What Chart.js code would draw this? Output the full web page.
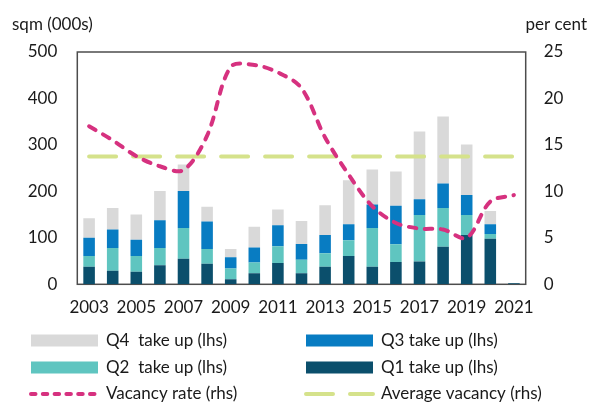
<!DOCTYPE html>
<html>
<head>
<meta charset="utf-8">
<script src="https://cdn.jsdelivr.net/npm/chart.js@4.4.1/dist/chart.umd.min.js"></script>
<style>
  html, body { margin: 0; padding: 0; background: #fff; }
  #wrap { width: 590px; height: 403px; }
</style>
</head>
<body>
<div id="wrap"><canvas id="takeUpChart"></canvas></div>
<script>
const years = ['2003', '2004', '2005', '2006', '2007', '2008', '2009', '2010', '2011', '2012',
               '2013', '2014', '2015', '2016', '2017', '2018', '2019', '2020', '2021'];

// take up, sqm (000s)
const q1TakeUp = [38, 29, 27, 41, 55, 44, 11, 24, 46, 24, 38, 61, 38, 48, 49, 81, 106, 98, 2];
const q2TakeUp = [23, 49, 34, 37, 66, 32, 23, 23, 36, 29, 29, 34, 83, 38, 100, 83, 43, 10, 0];
const q3TakeUp = [39, 40, 35, 60, 80, 59, 24, 32, 45, 34, 39, 34, 51, 83, 34, 53, 43, 21, 0];
const q4TakeUp = [42, 46, 54, 63, 57, 32, 18, 45, 34, 49, 64, 95, 75, 74, 146, 144, 109, 29, 0];

// per cent
const vacancyRate = [17.0, 15.5, 13.8, 12.7, 12.3, 16.0, 23.4, 23.6, 22.8, 21.1,
                     15.8, 11.8, 8.4, 6.6, 6.0, 5.9, 5.0, 8.9, 9.6];
const averageVacancy = [13.75, 13.75, 13.75, 13.75, 13.75, 13.75, 13.75, 13.75, 13.75, 13.75,
                        13.75, 13.75, 13.75, 13.75, 13.75, 13.75, 13.75, 13.75, 13.75];

Chart.defaults.font.family = 'Lato';
Chart.defaults.font.size = 17;
Chart.defaults.color = '#1a1a1a';

// box round the plot area
const framePlugin = {
    id: 'frame',
    beforeDatasetsDraw(chart) {
        const { ctx, chartArea: a } = chart;
        ctx.save();
        ctx.strokeStyle = '#4d4d4d';
        ctx.lineWidth = 1.5;
        ctx.strokeRect(a.left, a.top, a.right - a.left, a.bottom - a.top);
        ctx.restore();
    }
};

// axis headers above the plot
const headersPlugin = {
    id: 'headers',
    afterDraw(chart) {
        const { ctx } = chart;
        ctx.save();
        ctx.font = '17px Lato';
        ctx.fillStyle = '#1a1a1a';
        ctx.textBaseline = 'middle';
        ctx.textAlign = 'left';
        ctx.fillText('sqm (000s)', 12, 25);
        ctx.textAlign = 'right';
        ctx.fillText('per cent', 587, 25);
        ctx.restore();
    }
};

// two-column legend under the axis
const legendPlugin = {
    id: 'gridLegend',
    afterDraw(chart) {
        const { ctx } = chart;
        const ds = chart.data.datasets;
        const items = [
            { i: 3, col: 0, row: 0 }, { i: 2, col: 1, row: 0 },
            { i: 1, col: 0, row: 1 }, { i: 0, col: 1, row: 1 },
            { i: 4, col: 0, row: 2 }, { i: 5, col: 1, row: 2 }
        ];
        const colX = [31, 306];
        const rowY = [340.5, 367.5, 394];
        ctx.save();
        ctx.font = '17px Lato';
        ctx.textBaseline = 'middle';
        ctx.textAlign = 'left';
        items.forEach(it => {
            const d = ds[it.i];
            const x = colX[it.col];
            const y = rowY[it.row];
            if (d.type === 'line') {
                ctx.strokeStyle = d.borderColor;
                ctx.lineWidth = d.borderWidth;
                ctx.lineCap = 'round';
                ctx.setLineDash(d.legendDash);
                ctx.beginPath();
                ctx.moveTo(x, y);
                ctx.lineTo(x + 67, y);
                ctx.stroke();
                ctx.setLineDash([]);
            } else {
                ctx.fillStyle = d.backgroundColor;
                ctx.fillRect(x, y - 6, 67, 12);
            }
            ctx.fillStyle = '#1a1a1a';
            ctx.fillText(d.label, x + 75, y);
        });
        ctx.restore();
    }
};

const barStyle = { barPercentage: 0.49, categoryPercentage: 1.0, borderWidth: 0, order: 2, yAxisID: 'y' };

new Chart(document.getElementById('takeUpChart'), {
    data: {
        labels: years,
        datasets: [
            { type: 'bar', label: 'Q1 take up (lhs)', data: q1TakeUp, backgroundColor: '#0b4f6c', ...barStyle },
            { type: 'bar', label: 'Q2  take up (lhs)', data: q2TakeUp, backgroundColor: '#5fc5c0', ...barStyle },
            { type: 'bar', label: 'Q3 take up (lhs)', data: q3TakeUp, backgroundColor: '#087cc2', ...barStyle },
            { type: 'bar', label: 'Q4  take up (lhs)', data: q4TakeUp, backgroundColor: '#d9d9d9', ...barStyle },
            {
                type: 'line', label: 'Vacancy rate (rhs)', data: vacancyRate, yAxisID: 'y1', order: 0,
                borderColor: '#d6317f', borderWidth: 4, borderDash: [7.5, 8.5], borderCapStyle: 'round',
                legendDash: [4.5, 7.3], pointRadius: 0, tension: 0.33, fill: false
            },
            {
                type: 'line', label: 'Average vacancy (rhs)', data: averageVacancy, yAxisID: 'y1', order: 1,
                borderColor: '#d5e28b', borderWidth: 4, borderDash: [27, 17], borderCapStyle: 'round',
                legendDash: [27, 17], pointRadius: 0, tension: 0, fill: false
            }
        ]
    },
    options: {
        responsive: true,
        maintainAspectRatio: false,
        animation: false,
        layout: { padding: { top: 52, left: 0, right: 0, bottom: 0 } },
        plugins: {
            legend: { display: false },
            tooltip: { enabled: false }
        },
        scales: {
            x: {
                stacked: true,
                offset: true,
                grid: { display: false, drawTicks: false },
                border: { display: false },
                ticks: {
                    autoSkip: false,
                    maxRotation: 0,
                    padding: 13,
                    callback: (v, i) => (i % 2 === 0 ? years[i] : '')
                },
                afterFit: s => { s.height = 118.7; }
            },
            y: {
                position: 'left',
                stacked: true,
                min: 0,
                max: 500,
                grid: { display: false, drawTicks: false },
                border: { display: false },
                ticks: { stepSize: 100, padding: 20 },
                afterFit: s => { s.width = 77.3; }
            },
            y1: {
                position: 'right',
                min: 0,
                max: 25,
                grid: { display: false, drawTicks: false },
                border: { display: false },
                ticks: { stepSize: 5, padding: 18 },
                afterFit: s => { s.width = 64.3; }
            }
        }
    },
    plugins: [framePlugin, headersPlugin, legendPlugin]
});
</script>
</body>
</html>
